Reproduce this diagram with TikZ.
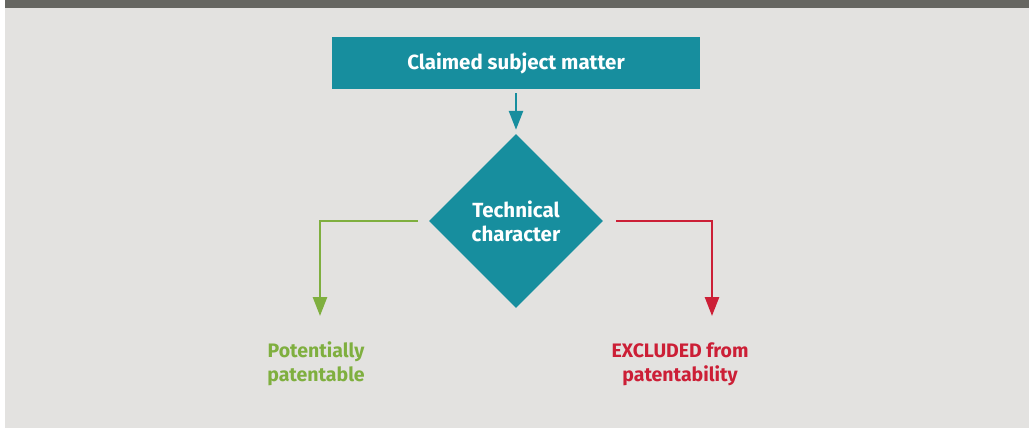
\documentclass[tikz,border=0pt]{standalone}
\usepackage{fontspec}
\setmainfont{Fira Sans}
\usetikzlibrary{arrows.meta,shapes.geometric}
\definecolor{barcol}{HTML}{666661}
\definecolor{bgcol}{HTML}{E3E2E0}
\definecolor{teal}{HTML}{178E9E}
\definecolor{okgreen}{HTML}{7FAF3F}
\definecolor{exred}{HTML}{CC1F36}
\begin{document}
\begin{tikzpicture}[x=1pt,y=-1pt,
  boxstyle/.style={fill=teal,text=white,font=\fontsize{20.5}{24}\selectfont\bfseries,inner sep=0pt},
  lbl/.style={font=\fontsize{19.5}{24}\selectfont\bfseries,align=center,inner sep=0pt},
  conn/.style={line width=2.6pt,-{Triangle[width=14pt,length=19pt]}}]
  % frame: background and top bar
  \useasboundingbox (0,0) rectangle (1029,428);
  \fill[bgcol] (5,8) rectangle (1029,428);
  \fill[barcol] (5,0) rectangle (1029,8);
  % nodes
  \node[boxstyle,minimum width=368pt,minimum height=52pt] (cs) at (516,63) {Claimed subject matter};
  \node[boxstyle,diamond,minimum width=174pt,minimum height=174pt,align=center] (tc) at (516,221) {Technical\\character};
  \node[lbl,text=okgreen] (pp) at (316,364) {Potentially\\patentable};
  \node[lbl,text=exred] (ex) at (680,364) {EXCLUDED from\\patentability};
  % arrow ends
  \coordinate (gl) at (320,316);
  \coordinate (rl) at (712,316);
  % connectors
  \draw[conn,teal] ([yshift=-4pt]cs.south) -- ([yshift=4pt]tc.north);
  \draw[conn,okgreen] ([xshift=-11pt]tc.west) -| (gl);
  \draw[conn,exred] ([xshift=13pt]tc.east) -| (rl);
\end{tikzpicture}
\end{document}
